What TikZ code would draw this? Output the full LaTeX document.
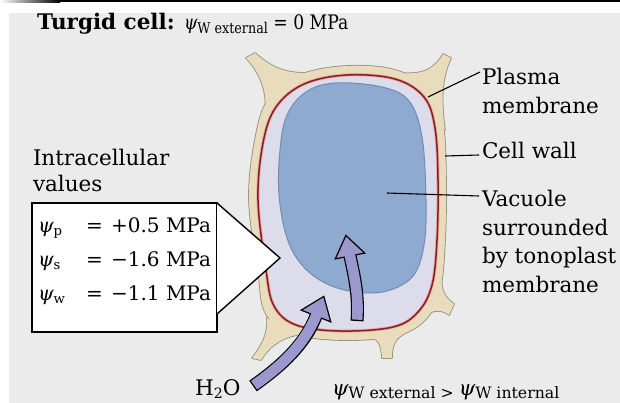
\documentclass[tikz,border=0pt]{standalone}
\usepackage{fontspec}
\setmainfont{DejaVu Serif}
\definecolor{bg}{HTML}{EBEBEB}
\definecolor{walltan}{HTML}{E9DCBC}
\definecolor{wallline}{HTML}{8E8C7C}
\definecolor{memred}{HTML}{8A1C1C}
\definecolor{mempink}{HTML}{E6AAAA}
\definecolor{cyto}{HTML}{DCDCEA}
\definecolor{vac}{HTML}{8FAAD0}
\definecolor{vacline}{HTML}{6F8DB3}
\definecolor{flow}{HTML}{9A98CC}
\newcommand\sub[2][0.66]{\raisebox{-0.35ex}{\scalebox{#1}{#2}}}
\newcommand\psy{{\itshape ψ}}
\begin{document}
\begin{tikzpicture}[x=1pt,y=-1pt,
  every node/.style={inner sep=0pt, outer sep=0pt, anchor=base west},
  lbl/.style={font=\fontsize{21.5}{26}\selectfont},
  row/.style={font=\fontsize{20}{24}\selectfont},
  leader/.style={draw=black, line width=1.1pt},
  outerwall/.style={insert path={plot[smooth cycle, tension=0.6] coordinates {
    (347,66) (395,70) (430,90) (443,125) (446,180) (445,240) (440,290)
    (425,320) (395,336) (340,340) (290,333) (265,312) (258,270) (249,200)
    (255,140) (268,100) (300,75)}}},
  membrane/.style={insert path={plot[smooth cycle, tension=0.6] coordinates {
    (347,75) (395,79) (424,97) (435,128) (438,180) (437,240) (432,285)
    (418,312) (393,327) (340,331) (296,325) (274,306) (266,270) (258,200)
    (263,143) (276,107) (304,84)}}},
  vacuole/.style={insert path={plot[smooth cycle, tension=0.6] coordinates {
    (335,83) (382,87) (409,101) (422,137) (426,200) (424,245) (413,276)
    (387,291) (355,292) (325,283) (302,265) (287,238) (279,195) (280,150)
    (287,115) (306,92)}}},
  hornA/.style={insert path={(265,112) .. controls (268,90) and (258,70) .. (246,58)
    -- (255,53) .. controls (270,66) and (285,76) .. (318,72) -- cycle}},
  hornB/.style={insert path={(400,73) .. controls (425,75) and (435,68) .. (443,54)
    -- (451,58) .. controls (443,75) and (440,95) .. (445,130) -- cycle}},
  hornC/.style={insert path={(441,270) .. controls (440,290) and (445,298) .. (454,304)
    -- (449,315) .. controls (440,308) and (430,310) .. (418,320) -- cycle}},
  hornD/.style={insert path={(368,336) .. controls (380,340) and (381,345) .. (382,358)
    -- (392,358) .. controls (392,345) and (395,338) .. (407,332) -- cycle}},
  hornE/.style={insert path={(267,318) .. controls (268,335) and (262,345) .. (252,358)
    -- (261,360) .. controls (268,348) and (280,338) .. (297,335) -- cycle}},
]
\useasboundingbox (0,0) rectangle (620,403);

% page background and top rule
\fill[white] (0,0) rectangle (620,403);
\fill[bg] (9,13) rectangle (620,403);
\shade[left color=white, right color=black] (0,0) rectangle (60,2.5);
\fill[black] (60,0) rectangle (620,2.5);

% cell wall: outline layer first, then the tan layer on top
\foreach \part in {outerwall,hornA,hornB,hornC,hornD,hornE}
  \path[fill=wallline, draw=wallline, line width=1.6pt, line join=round, \part];
\foreach \part in {outerwall,hornA,hornB,hornC,hornD,hornE}
  \path[fill=walltan, \part];

% cytoplasm with plasma membrane
\path[fill=cyto, membrane];
\path[draw=mempink, line width=3.2pt, membrane];
\path[draw=memred, line width=1.5pt, membrane];

% vacuole
\path[fill=vac, draw=vacline, line width=1pt, vacuole];

% water flow arrows
\coordinate (a1s) at (253,386);
\coordinate (a1e) at (316,316);
\draw[line width=13pt] (a1s) .. controls (280,367) and (305,345) .. (a1e);
\filldraw[fill=flow, draw=black, line width=1.2pt, line join=miter]
  (301.2,310.1) -- (323.8,296.4) -- (330.8,321.9) -- cycle;
\draw[flow, line width=10.6pt, shorten <=1.3pt, shorten >=-3pt]
  (a1s) .. controls (280,367) and (305,345) .. (a1e);

\coordinate (a2s) at (357,321);
\coordinate (a2e) at (350,256);
\draw[line width=13pt] (a2s) .. controls (359,295) and (354,275) .. (a2e);
\filldraw[fill=flow, draw=black, line width=1.2pt, line join=miter]
  (335.3,258.9) -- (345.9,235.4) -- (364.7,253.1) -- cycle;
\draw[flow, line width=10.6pt, shorten <=1.3pt, shorten >=-3pt]
  (a2s) .. controls (359,295) and (354,275) .. (a2e);

% value box with its pointer
\filldraw[fill=white, draw=black, line width=1.4pt] (32,203) rectangle (217,332);
\filldraw[fill=white, draw=black, line width=1.4pt, line join=miter]
  (217,203) -- (280,258) -- (217,314);

% title
\node[font=\fontsize{21.5}{26}\selectfont\bfseries] (title) at (37,30) {Turgid cell:};
\node[font=\fontsize{20}{24}\selectfont] (titlepsi) at (184,30)
  {\scalebox{0.86}[1]{\psy\sub[0.74]{W external} = 0 MPa}};

% intracellular values
\node[lbl] (intra) at (33,166) {Intracellular};
\node[lbl] (vals) at (33,192) {values};
\node[row] (p1) at (38,232) {\psy\sub{p}};
\node[row] (e1) at (86,232) {=};
\node[row, anchor=base east] (v1) at (211,232) {+0.5 MPa};
\node[row] (p2) at (38,266) {\psy\sub{s}};
\node[row] (e2) at (86,266) {=};
\node[row, anchor=base east] (v2) at (211,266) {−1.6 MPa};
\node[row] (p3) at (38,300) {\psy\sub{w}};
\node[row] (e3) at (86,300) {=};
\node[row, anchor=base east] (v3) at (211,300) {−1.1 MPa};

% structure labels
\node[lbl] (pm1) at (482,85) {Plasma};
\node[lbl] (pm2) at (482,114) {membrane};
\node[lbl] (cw) at (482,159) {Cell wall};
\node[lbl] (vc1) at (482,207) {Vacuole};
\node[lbl] (vc2) at (482,235) {surrounded};
\node[lbl] (vc3) at (482,263) {by tonoplast};
\node[lbl] (vc4) at (482,292) {membrane};

\coordinate (pmfrom) at (480,72);
\coordinate (pmto) at (428,97);
\coordinate (cwfrom) at (479,155);
\coordinate (cwto) at (445,156);
\coordinate (vcfrom) at (479,196);
\coordinate (vcto) at (387,193);
\draw[leader] (pmfrom) -- (pmto);
\draw[leader] (cwfrom) -- (cwto);
\draw[leader] (vcfrom) -- (vcto);

% bottom labels
\node[lbl] (water) at (195,395) {H\sub{2}O};
\node[font=\fontsize{21}{25}\selectfont] (cmp) at (332,395)
  {\psy\sub[0.75]{W external > }\psy\sub[0.75]{W internal}};
\end{tikzpicture}
\end{document}
